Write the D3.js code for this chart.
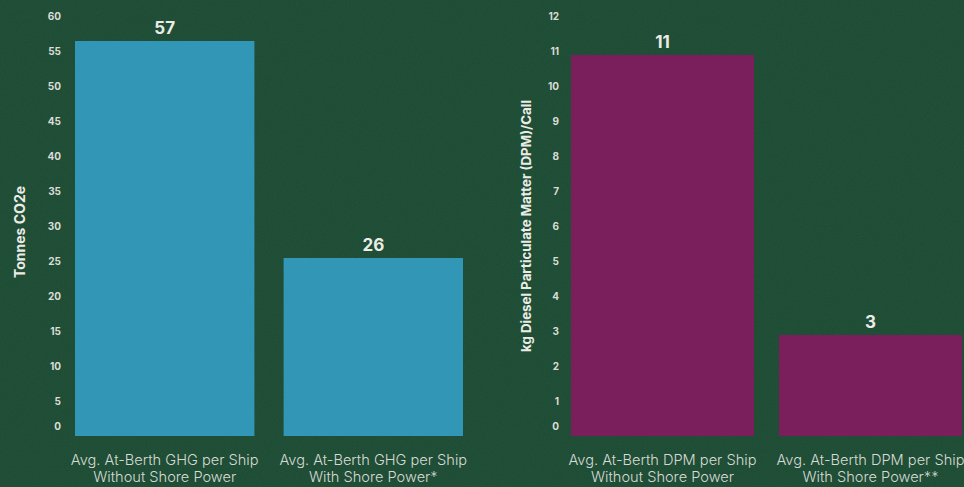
<!DOCTYPE html>
<html>
<head>
<meta charset="utf-8">
<script src="https://cdn.jsdelivr.net/npm/d3@7"></script>
<style>
  html, body { margin: 0; padding: 0; background: #1b4a32; }
  svg { display: block; }
</style>
</head>
<body>
<svg id="chart" width="964" height="487"></svg>
<script>
// Emissions at berth, with and without shore power
const ghgCategories = [
  ["Avg. At-Berth GHG per Ship", "Without Shore Power"],
  ["Avg. At-Berth GHG per Ship", "With Shore Power*"]
];
const ghgValues = [57, 26];
const ghgTicks = [0, 5, 10, 15, 20, 25, 30, 35, 40, 45, 50, 55, 60];

const dpmCategories = [
  ["Avg. At-Berth DPM per Ship", "Without Shore Power"],
  ["Avg. At-Berth DPM per Ship", "With Shore Power**"]
];
const dpmValues = [11, 3];
const dpmTicks = [0, 1, 2, 3, 4, 5, 6, 7, 8, 9, 10, 11, 12];

const svg = d3.select("#chart");
const W = 964, H = 487;

// Paper-like background texture
const defs = svg.append("defs");
const f = defs.append("filter").attr("id", "grain").attr("x", 0).attr("y", 0).attr("width", "100%").attr("height", "100%");
f.append("feTurbulence").attr("type", "fractalNoise").attr("baseFrequency", 0.9).attr("numOctaves", 2).attr("seed", 4).attr("result", "n");
f.append("feColorMatrix").attr("in", "n").attr("type", "matrix")
  .attr("values", "0 0 0 0 0.45  0 0 0 0 0.62  0 0 0 0 0.5  0 0 0 0.06 0");
svg.append("rect").attr("width", W).attr("height", H).attr("fill", "#1b4a32");
svg.append("rect").attr("width", W).attr("height", H).attr("filter", "url(#grain)");

function panel(cfg) {
  const g = svg.append("g");
  const x = d3.scaleBand()
    .domain(cfg.categories.map((d, i) => i))
    .range(cfg.xRange)
    .paddingInner(cfg.padInner)
    .paddingOuter(0);
  const y = d3.scaleLinear().domain(cfg.domain).range([440, 20]);
  const baseGap = 4;

  // Axis (labels only, no lines)
  const axis = d3.axisLeft(y).tickValues(cfg.ticks).tickSize(0).tickPadding(0);
  const ag = g.append("g").attr("transform", `translate(${cfg.axisX},0)`).call(axis);
  ag.select(".domain").remove();
  ag.selectAll("text")
    .attr("font-family", "Inter, 'Open Sans', sans-serif")
    .attr("font-weight", 700)
    .attr("font-size", 10)
    .attr("fill", "#dcdcd6")
    .attr("dy", d => d === 0 ? "-1.1em" : "-0.05em");

  // Axis title
  g.append("text")
    .attr("transform", `translate(${cfg.titleX},${cfg.titleY}) rotate(-90)`)
    .attr("text-anchor", "middle")
    .attr("dominant-baseline", "middle")
    .attr("font-family", "Inter, 'Open Sans', sans-serif")
    .attr("font-weight", 700)
    .attr("font-size", cfg.titleSize)
    .attr("fill", "#ecece6")
    .text(cfg.title);

  // Bars
  g.selectAll("rect.bar").data(cfg.values).join("rect")
    .attr("class", "bar")
    .attr("x", (d, i) => x(i))
    .attr("width", x.bandwidth())
    .attr("y", d => y(d))
    .attr("height", d => y(0) - baseGap - y(d))
    .attr("fill", cfg.color);

  // Value labels
  g.selectAll("text.val").data(cfg.values).join("text")
    .attr("class", "val")
    .attr("x", (d, i) => x(i) + x.bandwidth() / 2)
    .attr("y", d => y(d) - 7)
    .attr("text-anchor", "middle")
    .attr("font-family", "Inter, 'Open Sans', sans-serif")
    .attr("font-weight", 700)
    .attr("font-size", 17)
    .attr("fill", "#ecece6")
    .text(d => d);

  // Category labels
  const cl = g.selectAll("text.cat").data(cfg.categories).join("text")
    .attr("class", "cat")
    .attr("x", (d, i) => x(i) + x.bandwidth() / 2)
    .attr("y", 465)
    .attr("text-anchor", "middle")
    .attr("font-family", "Inter, 'Open Sans', sans-serif")
    .attr("font-weight", 300)
    .attr("font-size", 14.6)
    .attr("fill", "#d6dad4");
  cl.selectAll("tspan").data(d => d).join("tspan")
    .attr("x", function () { return d3.select(this.parentNode).attr("x"); })
    .attr("dy", (d, i) => i === 0 ? 0 : 17)
    .text(d => d);
}

panel({
  categories: ghgCategories, values: ghgValues, ticks: ghgTicks, domain: [0, 60],
  xRange: [75, 463], padInner: 0.14, axisX: 61, color: "#3296b7",
  title: "Tonnes CO2e", titleX: 21, titleY: 232, titleSize: 14
});
panel({
  categories: dpmCategories, values: dpmValues, ticks: dpmTicks, domain: [0, 12],
  xRange: [571, 962], padInner: 0.12, axisX: 559, color: "#7a1f5b",
  title: "kg Diesel Particulate Matter (DPM)/Call", titleX: 527, titleY: 226, titleSize: 13.3
});
</script>
</body>
</html>
